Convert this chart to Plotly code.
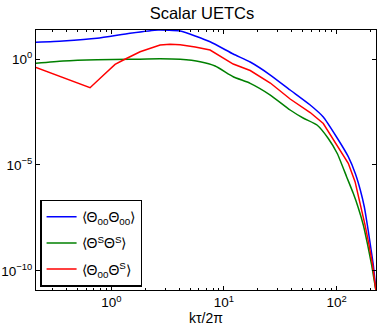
import plotly.graph_objects as go

# k tau / 2 pi values and UETC amplitudes
k_blue = [0.214, 0.372, 0.746, 1.466, 2.60, 4.08, 7.53, 12.08, 17.1, 25.8, 38.7,
          58.3, 76.2, 99.3, 127.0, 146.6, 162.4, 176.4, 187.5, 199.5, 211.8, 224.0]
c_blue = [6.14, 7.06, 9.46, 16.3, 23.3, 20.9, 6.55, 1.72, 0.722, 0.176, 0.0345,
          6.76e-3, 1.84e-3, 2.21e-4, 2.47e-5, 3.97e-6, 6.62e-7, 1.04e-7, 1.48e-8,
          1.68e-9, 1.92e-10, 1.1e-11]

k_green = [0.214, 0.372, 0.746, 1.466, 2.71, 4.08, 6.14, 8.35, 12.08, 17.1, 25.8,
           38.7, 50.9, 67.0, 84.4, 101.4, 122.7, 140.6, 155.0, 172.7, 188.8, 204.7, 224.0]
c_green = [0.627, 0.805, 0.927, 0.968, 1.03, 0.968, 0.746, 0.468, 0.146, 0.0714, 0.0200,
           3.93e-3, 1.60e-3, 7.70e-4, 1.78e-4, 3.49e-5, 2.81e-6, 4.62e-7, 1.05e-7,
           1.48e-8, 1.68e-9, 1.92e-10, 1.1e-11]

k_red = [0.214, 0.647, 0.822, 1.079, 1.279, 1.80, 2.71, 3.32, 4.08, 5.55, 7.53,
         12.08, 17.1, 25.8, 38.7, 58.3, 76.2, 100.5, 127.0, 145.9, 164.1, 178.8,
         194.1, 208.9, 224.0]
c_red = [0.406, 0.0443, 0.146, 0.562, 0.897, 2.21, 4.57, 4.99, 4.68, 3.68, 2.66,
         0.581, 0.287, 0.0738, 0.0130, 2.99e-3, 9.07e-4, 9.27e-5, 1.20e-5, 1.63e-6,
         1.16e-7, 1.48e-8, 1.68e-9, 1.92e-10, 1.1e-11]

names = ["⟨Θ<sub>00</sub>Θ<sub>00</sub>⟩", "⟨Θ<sup>S</sup>Θ<sup>S</sup>⟩", "⟨Θ<sub>00</sub>Θ<sup>S</sup>⟩"]

y_ticks = [1, 1e-5, 1e-10]
y_ticktext = ["10<sup>0</sup>", "10<sup>−5</sup>", "10<sup>−10</sup>"]
x_ticks = [1, 10, 100]
x_ticktext = ["10<sup>0</sup>", "10<sup>1</sup>", "10<sup>2</sup>"]
x_minor = [m * 10 ** d for d in (-1, 0, 1, 2) for m in range(2, 10)]

fig = go.Figure()
fig.add_trace(go.Scatter(x=k_blue, y=c_blue, mode="lines", name=names[0], legendgroup="a",
                         line=dict(color="#0000ff", width=1.5, shape="spline", smoothing=0.5)))
fig.add_trace(go.Scatter(x=k_green, y=c_green, mode="lines", name=names[1], legendgroup="b",
                         line=dict(color="#008000", width=1.5, shape="spline", smoothing=0.5)))
fig.add_trace(go.Scatter(x=k_red, y=c_red, mode="lines", name=names[2], legendgroup="c",
                         line=dict(color="#ff0000", width=1.5)))

axis_common = dict(showline=True, linecolor="black", linewidth=1, mirror="allticks",
                   ticks="inside", tickcolor="black", showgrid=False, zeroline=False,
                   automargin=False, tickfont=dict(size=13.5, color="black"))

fig.update_xaxes(type="log", range=[-0.669, 2.350], tickvals=x_ticks, ticktext=x_ticktext,
                 ticklen=4,
                 minor=dict(tickvals=x_minor, ticks="inside", ticklen=2, tickcolor="black", showgrid=False),
                 title=dict(text="kτ/2π", font=dict(size=14, color="black"), standoff=0),
                 **axis_common)
fig.update_yaxes(type="log", range=[-10.9, 1.37], tickvals=y_ticks, ticktext=y_ticktext,
                 ticklen=4, **axis_common)

fig.update_layout(
    width=381, height=331,
    margin=dict(l=36, r=5, t=30, b=41),
    paper_bgcolor="white", plot_bgcolor="white",
    font=dict(family="Liberation Sans, Arial, sans-serif", color="black"),
    title=dict(text="Scalar UETCs", x=0.53, xanchor="center", y=0.96, yanchor="middle",
               font=dict(size=16.5, color="black")),
    legend=dict(x=0.012, y=0.013, xanchor="left", yanchor="bottom",
                bgcolor="white", bordercolor="black", borderwidth=1.5,
                font=dict(size=14, color="black"), tracegroupgap=5, itemwidth=30),
    showlegend=True,
)

# the page has a default 8px body margin; remove it so the figure fills the window
fig.write_html("out.html", config={"displayModeBar": False},
               post_script="document.body.style.margin='0';")
